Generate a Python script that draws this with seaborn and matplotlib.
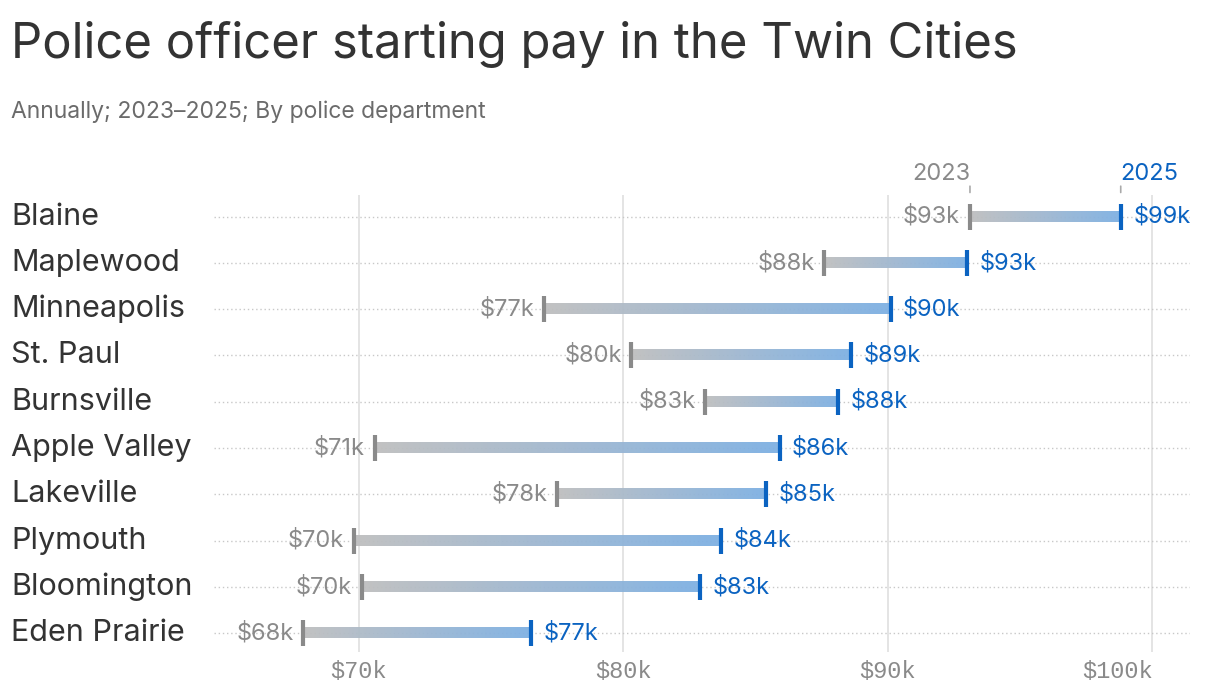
import numpy as np
import pandas as pd
import matplotlib
matplotlib.use("Agg")
import matplotlib.pyplot as plt
import matplotlib.transforms as mtransforms
from matplotlib.colors import LinearSegmentedColormap
import seaborn as sns

# data (thousands of dollars)
departments = ["Blaine", "Maplewood", "Minneapolis", "St. Paul", "Burnsville",
               "Apple Valley", "Lakeville", "Plymouth", "Bloomington", "Eden Prairie"]
pay_2023 = [93.1, 87.6, 77.0, 80.3, 83.1, 70.6, 77.5, 69.8, 70.1, 67.9]
pay_2025 = [98.8, 93.0, 90.1, 88.6, 88.1, 85.9, 85.4, 83.7, 82.9, 76.5]
labels_2023 = ["$93k", "$88k", "$77k", "$80k", "$83k", "$71k", "$78k", "$70k", "$70k", "$68k"]
labels_2025 = ["$99k", "$93k", "$90k", "$89k", "$88k", "$86k", "$85k", "$84k", "$83k", "$77k"]
xticks = [70, 80, 90, 100]
xtick_labels = ["$70k", "$80k", "$90k", "$100k"]

GRAY = "#8a8a8a"
BLUE = "#0b63c1"
grad = LinearSegmentedColormap.from_list("g", ["#bfbfbf", "#7eb0e3"])

df = pd.DataFrame({"dept": departments, "y": range(len(departments)),
                   "p23": pay_2023, "p25": pay_2025})

sns.set_theme(style="white")
plt.rcParams["font.family"] = ["Inter", "DejaVu Sans"]

fig = plt.figure(figsize=(12.2, 6.9), dpi=100)
ax = fig.add_axes([0.175, 0.055, 0.80, 0.662])

# vertical grid
for t in xticks:
    ax.axvline(t, color="#e2e2e2", lw=1.3, zorder=0)

# dotted row lines
for _, r in df.iterrows():
    ax.axhline(r["y"], color="#c8c8c8", lw=1, ls=(0, (1, 2)), zorder=1)

# gradient bars
gimg = np.linspace(0, 1, 256).reshape(1, -1)
for _, r in df.iterrows():
    ax.imshow(gimg, cmap=grad, aspect="auto", alpha=0.95,
              extent=(r["p23"], r["p25"], r["y"] + 0.11, r["y"] - 0.11),
              zorder=2, interpolation="bilinear")
ax.set_xlim(64.5, 101.4)
ax.set_ylim(9.41, -0.46)

# end markers
sns.scatterplot(data=df, x="p23", y="y", marker="|", s=330, linewidth=3,
                color=GRAY, ax=ax, zorder=3, legend=False)
sns.scatterplot(data=df, x="p25", y="y", marker="|", s=330, linewidth=3,
                color=BLUE, ax=ax, zorder=3, legend=False)

# value labels and department names
name_tr = mtransforms.blended_transform_factory(fig.transFigure, ax.transData)
for _, r in df.iterrows():
    i = int(r["y"])
    ax.annotate(labels_2023[i], (r["p23"], r["y"]), xytext=(-7, 0),
                textcoords="offset points", ha="right", va="center",
                fontsize=17, color=GRAY)
    ax.annotate(labels_2025[i], (r["p25"], r["y"]), xytext=(9, 0),
                textcoords="offset points", ha="left", va="center",
                fontsize=17, color=BLUE)
    ax.text(0.009, r["y"], r["dept"], transform=name_tr,
            ha="left", va="center", fontsize=22, color="#333333")

# year headers above first row
for x0 in (pay_2023[0], pay_2025[0]):
    ax.annotate("", xy=(x0, 1.0), xycoords=("data", "axes fraction"),
                xytext=(x0, 1.026), textcoords=("data", "axes fraction"),
                arrowprops=dict(arrowstyle="-", color="#aaaaaa", lw=1.2),
                annotation_clip=False)
ax.text(pay_2023[0], 1.033, "2023", transform=ax.get_xaxis_transform(),
        ha="right", va="baseline", fontsize=17, color=GRAY)
ax.text(pay_2025[0], 1.033, "2025", transform=ax.get_xaxis_transform(),
        ha="left", va="baseline", fontsize=17, color=BLUE)

# axes styling
ax.set_xticks(xticks)
ax.set_xticklabels(xtick_labels, family="Liberation Mono", fontsize=17, color=GRAY)
ax.get_xticklabels()[-1].set_horizontalalignment("right")
ax.tick_params(axis="x", length=0, pad=6)
ax.set_yticks([])
ax.set_xlabel("")
ax.set_ylabel("")
sns.despine(ax=ax, left=True, bottom=True)

fig.text(0.009, 0.935, "Police officer starting pay in the Twin Cities",
         fontsize=35.3, color="#333333", va="center", ha="left")
fig.text(0.009, 0.838, "Annually; 2023\u20132025; By police department",
         fontsize=16.5, color="#6b6b6b", va="center", ha="left")

fig.savefig("out.png", dpi=100)
